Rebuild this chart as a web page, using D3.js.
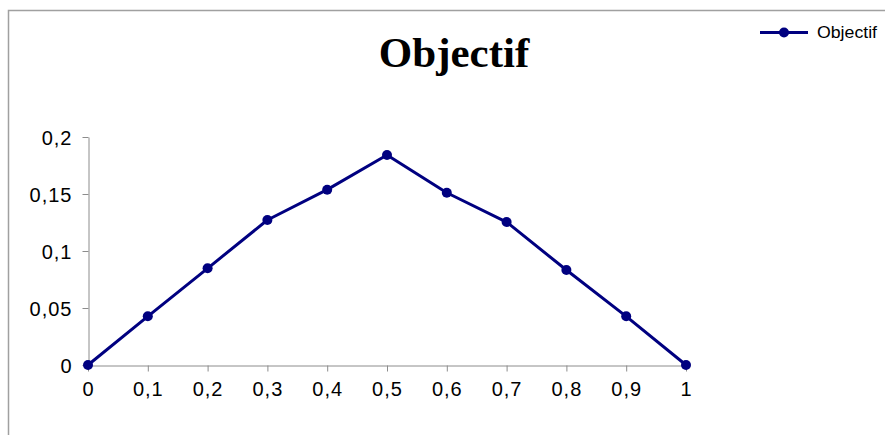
<!DOCTYPE html>
<html>
<head>
<meta charset="utf-8">
<script src="https://cdn.jsdelivr.net/npm/d3@7"></script>
<style>
  html, body { margin: 0; padding: 0; background: #fff; }
  svg { display: block; }
</style>
</head>
<body>
<svg id="chart" width="885" height="435"></svg>
<script>
// Data
const xValues = [0, 0.1, 0.2, 0.3, 0.4, 0.5, 0.6, 0.7, 0.8, 0.9, 1];
const objectifValues = [0, 0.0427, 0.0848, 0.1272, 0.1538, 0.1842, 0.1511, 0.1254, 0.0833, 0.0427, 0];
const yTicks = [0, 0.05, 0.1, 0.15, 0.2];
const xTicks = [0, 0.1, 0.2, 0.3, 0.4, 0.5, 0.6, 0.7, 0.8, 0.9, 1];
const seriesName = "Objectif";
const titleText = "Objectif";

const svg = d3.select("#chart");
const W = 885, H = 435;
const fmt = d => String(+d.toFixed(2)).replace(".", ",");

// outer frame (extends past the right and bottom edges)
svg.append("path")
  .attr("d", `M8.5,${H + 5} V10.5 H${W + 5}`)
  .attr("fill", "none")
  .attr("stroke", "#a0a0a0")
  .attr("stroke-width", 1.5);

const x = d3.scaleLinear().domain([0, 1]).range([88, 686]);
const y = d3.scaleLinear().domain([0, 0.2]).range([365, 137]);

// y axis
const yAxis = svg.append("g").attr("transform", "translate(88.5,0)")
  .call(d3.axisLeft(y).tickValues(yTicks).tickSize(6).tickSizeOuter(0).tickPadding(10).tickFormat(fmt));
// x axis
const xAxis = svg.append("g").attr("transform", "translate(0,365.5)")
  .call(d3.axisBottom(x).tickValues(xTicks).tickSize(6).tickSizeOuter(0).tickPadding(9).tickFormat(fmt));

[yAxis, xAxis].forEach(g => {
  g.select(".domain").attr("stroke", "#8c8c8c").attr("stroke-width", 1);
  g.selectAll(".tick line").attr("stroke", "#8c8c8c");
  g.selectAll(".tick text")
    .attr("fill", "#000")
    .style("font-family", "'Liberation Sans', Arial, sans-serif")
    .style("font-size", "20px")
    .style("letter-spacing", "1px");
});
yAxis.selectAll(".tick text").attr("dy", "0.35em");
xAxis.selectAll(".tick text").attr("dy", "0.75em");

// series
const pts = xValues.map((v, i) => [v, objectifValues[i]]);
const line = d3.line().x(d => x(d[0])).y(d => y(d[1]));
svg.append("path")
  .datum(pts)
  .attr("d", line)
  .attr("fill", "none")
  .attr("stroke", "#000080")
  .attr("stroke-width", 3)
  .attr("stroke-linejoin", "round");
svg.selectAll("circle.pt")
  .data(pts)
  .enter().append("circle")
  .attr("class", "pt")
  .attr("cx", d => x(d[0]))
  .attr("cy", d => y(d[1]))
  .attr("r", 5)
  .attr("fill", "#000080");

// title
svg.append("text")
  .attr("x", 454)
  .attr("y", 67)
  .attr("text-anchor", "middle")
  .style("font-family", "'Liberation Serif', 'Times New Roman', serif")
  .style("font-weight", "bold")
  .style("font-size", "43px")
  .text(titleText);

// legend
const lg = svg.append("g");
lg.append("line")
  .attr("x1", 760).attr("x2", 808).attr("y1", 32.5).attr("y2", 32.5)
  .attr("stroke", "#000080").attr("stroke-width", 3);
lg.append("circle")
  .attr("cx", 784).attr("cy", 32.5).attr("r", 5).attr("fill", "#000080");
lg.append("text")
  .attr("x", 817).attr("y", 38)
  .style("font-family", "'Liberation Sans', Arial, sans-serif")
  .style("font-size", "16px")
  .attr("textLength", 60)
  .attr("lengthAdjust", "spacingAndGlyphs")
  .text(seriesName);
</script>
</body>
</html>
